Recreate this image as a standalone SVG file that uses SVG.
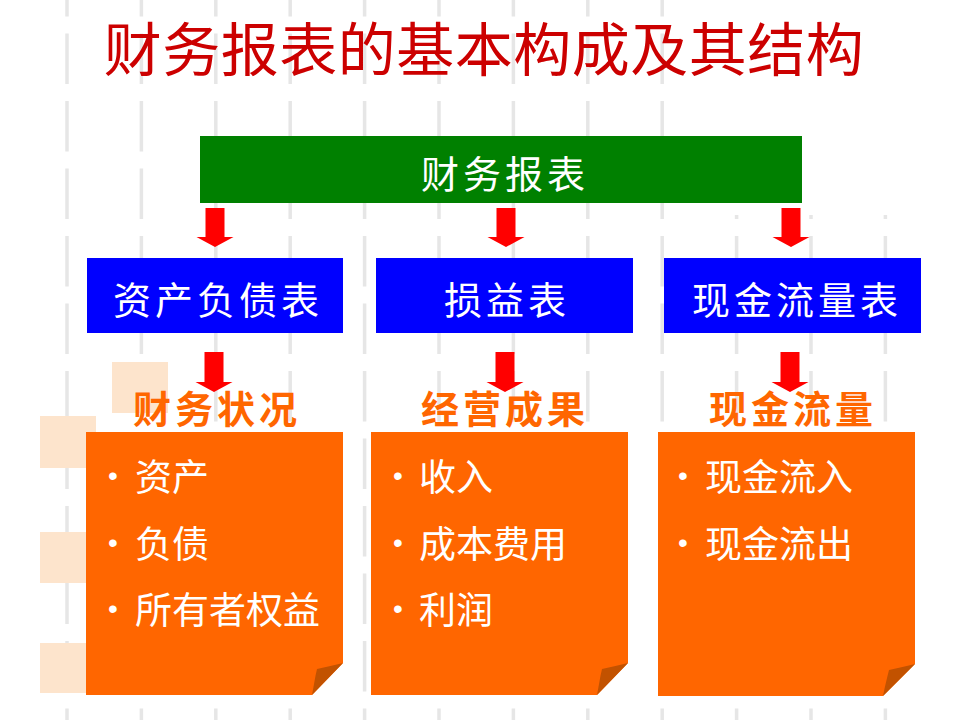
<svg xmlns="http://www.w3.org/2000/svg" width="960" height="720" viewBox="0 0 960 720">
  <defs>
    <style>
      .grid line { stroke: #e6e6e6; stroke-width: 3.5; stroke-dasharray: 50.5 17; }
      .kai { font-family: "Noto Sans CJK SC", "Noto Sans", sans-serif; dominant-baseline: central; text-anchor: middle; }
      .title { font-size: 58px; fill: #cc0000; letter-spacing: 0.5px; }
      .boxlabel { font-size: 38px; fill: #ffffff; letter-spacing: 4px; }
      .heading { font-size: 38px; fill: #ff6600; letter-spacing: 4px; font-weight: bold; }
      .item { font-family: "Noto Sans CJK SC", "Noto Sans", sans-serif; dominant-baseline: central; font-size: 37px; fill: #ffffff; }
      .bullet { font-family: "Liberation Sans", sans-serif; dominant-baseline: central; text-anchor: middle; font-size: 28px; fill: #ffffff; }
      .arrow { fill: #ff0000; }
      .green { fill: #008000; }
      .blue { fill: #0000ff; }
      .orange { fill: #ff6600; }
      .fold { fill: #c25200; }
      .peach { fill: #fde4cc; }
    </style>
  </defs>
  <rect width="960" height="720" fill="#ffffff"/>
  <g class="grid">
    <line x1="67" y1="-34" x2="67" y2="720"/>
    <line x1="141.4" y1="-34" x2="141.4" y2="720"/>
    <line x1="215.8" y1="-34" x2="215.8" y2="720"/>
    <line x1="290.2" y1="-34" x2="290.2" y2="720"/>
    <line x1="364.6" y1="-34" x2="364.6" y2="720"/>
    <line x1="439" y1="-34" x2="439" y2="720"/>
    <line x1="513.4" y1="-34" x2="513.4" y2="720"/>
    <line x1="587.8" y1="-34" x2="587.8" y2="720"/>
    <line x1="662.2" y1="-34" x2="662.2" y2="720"/>
    <line x1="736.6" y1="-34" x2="736.6" y2="720"/>
    <line x1="811" y1="-34" x2="811" y2="720"/>
    <line x1="885.4" y1="-34" x2="885.4" y2="720"/>
  </g>
  <rect x="700" y="0" width="260" height="215" fill="#ffffff"/>
  <g id="decor">
    <rect class="peach" x="112" y="362" width="56" height="51"/>
    <rect class="peach" x="40" y="416" width="56" height="52"/>
    <rect class="peach" x="40" y="532" width="56" height="51"/>
    <rect class="peach" x="40" y="643" width="56" height="50"/>
  </g>
  <g id="title">
    <text class="kai title" x="484" y="46">财务报表的基本构成及其结构</text>
  </g>
  <g id="node-root">
    <rect class="green" x="200" y="136" width="602" height="67"/>
    <text class="kai boxlabel" x="505" y="171">财务报表</text>
  </g>
  <g id="node-balance">
    <rect class="blue" x="87" y="258" width="256" height="75"/>
    <text class="kai boxlabel" x="218" y="297">资产负债表</text>
  </g>
  <g id="node-income">
    <rect class="blue" x="376" y="258" width="257" height="75"/>
    <text class="kai boxlabel" x="507" y="297">损益表</text>
  </g>
  <g id="node-cashflow">
    <rect class="blue" x="664" y="258" width="257" height="75"/>
    <text class="kai boxlabel" x="797" y="297">现金流量表</text>
  </g>
  <g id="node-position">
    <text class="kai heading" x="217" y="406">财务状况</text>
    <path class="orange" d="M86,432 H343 V663 L312,695 H86 Z"/>
    <path class="fold" d="M343,663 L312,695 C314,685 315,677 317,669 C326,667 335,665 343,663 Z"/>
    <text class="bullet" x="113" y="475">•</text>
    <text class="item" x="135" y="475">资产</text>
    <text class="bullet" x="113" y="542">•</text>
    <text class="item" x="135" y="542">负债</text>
    <text class="bullet" x="113" y="608">•</text>
    <text class="item" x="135" y="608">所有者权益</text>
  </g>
  <g id="node-results">
    <text class="kai heading" x="505" y="406">经营成果</text>
    <path class="orange" d="M371,432 H628 V663 L597,695 H371 Z"/>
    <path class="fold" d="M628,663 L597,695 C599,685 600,677 602,669 C611,667 620,665 628,663 Z"/>
    <text class="bullet" x="398" y="475">•</text>
    <text class="item" x="419" y="475">收入</text>
    <text class="bullet" x="398" y="542">•</text>
    <text class="item" x="419" y="542">成本费用</text>
    <text class="bullet" x="398" y="608">•</text>
    <text class="item" x="419" y="608">利润</text>
  </g>
  <g id="node-cash">
    <text class="kai heading" x="793" y="406">现金流量</text>
    <path class="orange" d="M658,432 H915 V664 L883,696 H658 Z"/>
    <path class="fold" d="M915,664 L883,696 C885,686 887,678 889,670 C898,668 907,666 915,664 Z"/>
    <text class="bullet" x="683" y="475">•</text>
    <text class="item" x="705" y="475">现金流入</text>
    <text class="bullet" x="683" y="542">•</text>
    <text class="item" x="705" y="542">现金流出</text>
  </g>
  <g id="connectors">
    <polygon class="arrow" points="205.5,208 224.5,208 224.5,237 233.5,237 215,247 196.5,237 205.5,237"/>
    <polygon class="arrow" points="496.5,208 515.5,208 515.5,237 524.5,237 506,247 487.5,237 496.5,237"/>
    <polygon class="arrow" points="781.5,208 800.5,208 800.5,237 809.5,237 791,247 772.5,237 781.5,237"/>
    <polygon class="arrow" points="204.5,352 223.5,352 223.5,382 232.5,382 214,392 195.5,382 204.5,382"/>
    <polygon class="arrow" points="495.5,352 514.5,352 514.5,382 523.5,382 505,392 486.5,382 495.5,382"/>
    <polygon class="arrow" points="780.5,352 799.5,352 799.5,382 808.5,382 790,392 771.5,382 780.5,382"/>
  </g>
</svg>
